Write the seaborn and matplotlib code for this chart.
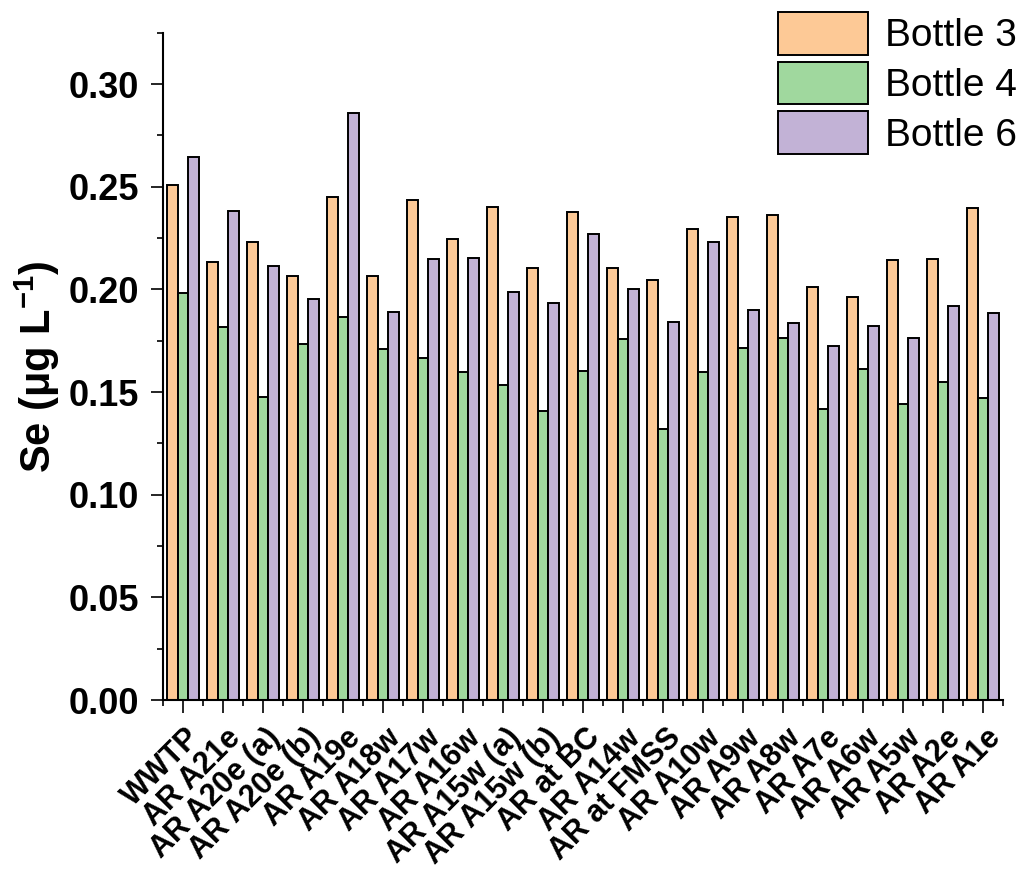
import numpy as np
import pandas as pd
import matplotlib
matplotlib.use("Agg")
import matplotlib.pyplot as plt
import seaborn as sns
from matplotlib.ticker import MultipleLocator, FixedLocator
from matplotlib.transforms import ScaledTranslation

# ---------------- data ----------------
sites = ["WWTP", "AR A21e", "AR A20e (a)", "AR A20e (b)", "AR A19e", "AR A18w",
         "AR A17w", "AR A16w", "AR A15w (a)", "AR A15w (b)", "AR at BC", "AR A14w",
         "AR at FMSS", "AR A10w", "AR A9w", "AR A8w", "AR A7e", "AR A6w",
         "AR A5w", "AR A2e", "AR A1e"]
bottle3 = [0.251, 0.2135, 0.223, 0.2065, 0.245, 0.2065, 0.2435, 0.2245, 0.240, 0.2105,
           0.2375, 0.2105, 0.2047, 0.2296, 0.2352, 0.236, 0.2013, 0.1963, 0.2145, 0.2149, 0.2398]
bottle4 = [0.198, 0.1818, 0.1474, 0.1732, 0.1864, 0.1709, 0.1666, 0.1596, 0.1536, 0.1409,
           0.1602, 0.176, 0.1318, 0.1597, 0.1713, 0.1765, 0.1419, 0.161, 0.1442, 0.155, 0.1469]
bottle6 = [0.2645, 0.238, 0.2112, 0.1953, 0.286, 0.1891, 0.2146, 0.2154, 0.1989, 0.1933,
           0.2272, 0.200, 0.1841, 0.2231, 0.1899, 0.1836, 0.1726, 0.1822, 0.1765, 0.192, 0.1886]
series_names = ["Bottle 3", "Bottle 4", "Bottle 6"]
colors = ["#FDC996", "#A0D89E", "#C2B2D6"]
y_major = [0.00, 0.05, 0.10, 0.15, 0.20, 0.25, 0.30]

df = pd.DataFrame({
    "Site": sites * 3,
    "Bottle": [s for s in series_names for _ in sites],
    "Se": bottle3 + bottle4 + bottle6,
})

# ---------------- style ----------------
sns.set_theme(style="ticks")
plt.rcParams["font.family"] = ["Liberation Sans", "DejaVu Sans"]
plt.rcParams["mathtext.fontset"] = "custom"
plt.rcParams["mathtext.rm"] = "Liberation Sans:bold"
plt.rcParams["mathtext.bf"] = "Liberation Sans:bold"
plt.rcParams["mathtext.it"] = "Liberation Sans:bold:italic"
for key in ["text.color", "axes.labelcolor", "xtick.color", "ytick.color", "axes.edgecolor"]:
    plt.rcParams[key] = "black"

W, H = 1023, 876
fig = plt.figure(figsize=(W / 100, H / 100), dpi=100)
ax = fig.add_axes([163 / W, 176 / H, (1003 - 163) / W, (700 - 32.7) / H])

sns.barplot(data=df, x="Site", y="Se", hue="Bottle", order=sites,
            hue_order=series_names, palette=dict(zip(series_names, colors)),
            saturation=1, edgecolor="black", linewidth=1.4, width=0.8, gap=0,
            errorbar=None, ax=ax)

ax.set_xlim(-0.5, len(sites) - 0.5)
ax.set_ylim(0, 0.325)
ax.yaxis.set_major_locator(FixedLocator(y_major))
ax.yaxis.set_minor_locator(MultipleLocator(0.025))
ax.set_yticklabels([f"{v:.2f}" for v in y_major], fontsize=26, fontweight="bold")
ax.xaxis.set_minor_locator(FixedLocator(np.arange(-0.5, len(sites), 1.0)))

for side in ["top", "right"]:
    ax.spines[side].set_visible(False)
for side in ["left", "bottom"]:
    ax.spines[side].set_linewidth(1.5)
    ax.spines[side].set_color("black")

ax.tick_params(axis="both", which="major", direction="out", length=9, width=1.2, color="black")
ax.tick_params(axis="both", which="minor", direction="out", length=4.5, width=1.2, color="black")
ax.tick_params(axis="y", which="major", pad=8)
ax.tick_params(axis="x", which="major", pad=15)

ax.set_xlabel("")
ax.set_xticks(range(len(sites)))
ax.set_xticklabels(sites, fontsize=22, fontweight="bold", rotation=45,
                   ha="right", va="center", rotation_mode="anchor")
offset = ScaledTranslation(13 / 100, 0, fig.dpi_scale_trans)
for lab in ax.get_xticklabels():
    lab.set_transform(lab.get_transform() + offset)

ax.set_ylabel("Se (μg L$^{\\mathbf{-1}}$)", fontsize=30, fontweight="bold")
ax.yaxis.set_label_coords(-0.12, 0.5)

handles, labels = ax.get_legend_handles_labels()
if ax.get_legend() is not None:
    ax.get_legend().remove()
fig.legend(handles, labels, loc="upper left",
           bbox_to_anchor=(778 / W, 1 - 11.7 / H), bbox_transform=fig.transFigure,
           frameon=False, borderpad=0, borderaxespad=0, fontsize=28,
           handlelength=2.31, handleheight=1.32, labelspacing=0.18, handletextpad=0.44)

fig.savefig("out.png", dpi=100)
